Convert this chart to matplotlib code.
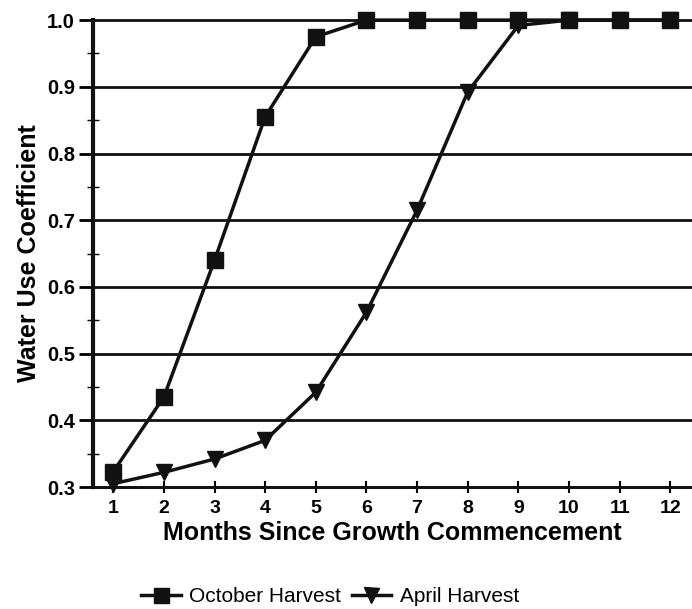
import matplotlib
matplotlib.use("Agg")
import matplotlib.pyplot as plt
from matplotlib.ticker import MultipleLocator

months = [1, 2, 3, 4, 5, 6, 7, 8, 9, 10, 11, 12]
october = [0.323, 0.435, 0.64, 0.855, 0.975, 1.0, 1.0, 1.0, 1.0, 1.0, 1.0, 1.0]
april = [0.305, 0.322, 0.342, 0.37, 0.442, 0.562, 0.715, 0.892, 0.992, 1.0, 1.0, 1.0]
yticks = [0.3, 0.4, 0.5, 0.6, 0.7, 0.8, 0.9, 1.0]

plt.rcParams['font.family'] = ['Liberation Sans', 'DejaVu Sans']

fig = plt.figure(figsize=(6.92, 6.09), dpi=100)
ax = fig.add_axes([0.1344, 0.2003, 0.8656, 0.7667])

for y in yticks:
    ax.axhline(y, color='#111111', lw=2.0, zorder=1, clip_on=False)

ax.plot(months, april, color='#111111', lw=2.5, marker='v', markersize=12,
        label='April Harvest', zorder=3, clip_on=False)
ax.plot(months, october, color='#111111', lw=2.5, marker='s', markersize=12,
        label='October Harvest', zorder=4, clip_on=False)

ax.set_xlim(0.6, 12.43)
ax.set_ylim(0.3, 1.0)
ax.set_xticks(months)
ax.set_yticks(yticks)
ax.yaxis.set_minor_locator(MultipleLocator(0.05))
ax.set_yticklabels([f"{v:.1f}" for v in yticks], fontsize=14.5, fontweight='bold')
ax.set_xticklabels([str(m) for m in months], fontsize=14, fontweight='bold')

for s in ['top', 'right']:
    ax.spines[s].set_visible(False)
ax.spines['left'].set_linewidth(3)
ax.spines['bottom'].set_linewidth(2)
ax.spines['left'].set_color('#111111')
ax.spines['bottom'].set_color('#111111')

ax.tick_params(axis='y', which='major', direction='out', length=10, width=2, pad=3)
ax.tick_params(axis='y', which='minor', direction='inout', length=8, width=1)
ax.tick_params(axis='x', which='major', direction='inout', length=8, width=1.5, pad=5)

ax.set_ylabel('Water Use Coefficient', fontsize=18, fontweight='bold', labelpad=4)
ax.set_xlabel('Months Since Growth Commencement', fontsize=18, fontweight='bold', labelpad=3)

handles, labels = ax.get_legend_handles_labels()
fig.legend(handles[::-1], labels[::-1], loc='center', bbox_to_anchor=(0.477, 0.02),
           ncol=2, frameon=False, fontsize=15, handlelength=1.9, handletextpad=0.4,
           columnspacing=0.5, markerscale=0.9)

fig.savefig('out.png', dpi=100)
